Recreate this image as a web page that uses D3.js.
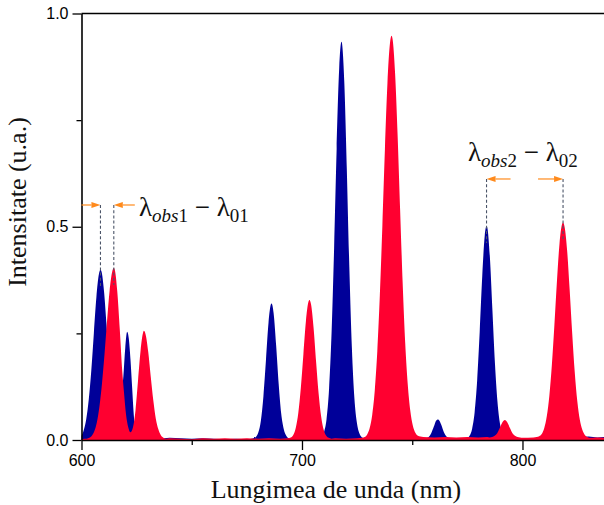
<!DOCTYPE html>
<html>
<head>
<meta charset="utf-8">
<script src="https://cdn.jsdelivr.net/npm/d3@7"></script>
<style>
  html, body { margin: 0; padding: 0; background: #fff; }
  svg { display: block; }
</style>
</head>
<body>
<script>
// Emission spectra: blue series (observed) and red series (shifted)
const blueWavelengths = [598.71,599.86,601.01,602.16,603.31,604.46,605.61,606.76,607.91,608.6,609.06,610.21,611.36,612.51,613.66,614.81,615.4,616.07,617.0,618.0,619.0,619.83,620.7,621.4,622.2,623.0,623.7,624.3,625.0,626.0,628.5,
  630,635,640,645,650,655,660,665,670,675,
  677.92,679.07,680.22,681.37,682.52,683.67,684.82,685.97,686.2,687.12,688.27,689.42,690.57,691.72,692.87,694.02,695.17,
  700,705,
  707.67,708.82,709.97,711.12,712.27,713.42,714.57,715.72,716.87,717.9,718.02,719.17,720.32,721.47,722.62,723.77,724.92,726.07,727.22,728.37,
  730,735,740,745,750,755,
  756.31,757.46,758.61,759.76,760.91,761.6,762.06,763.21,764.36,765.51,766.66,767.81,
  770,
  773.7,774.85,776.0,777.15,778.3,779.45,780.6,781.75,782.9,783.7,784.05,785.2,786.35,787.5,788.65,789.8,790.95,792.1,793.25,
  795,800,805,808,812,816,820,825,830,834,837.5];
const blueIntensity = [0.006,0.010,0.023,0.049,0.096,0.164,0.251,0.335,0.389,0.399,0.395,0.349,0.269,0.181,0.108,0.063,0.055,0.055,0.070,0.105,0.150,0.215,0.254,0.240,0.190,0.120,0.060,0.025,0.008,0.004,0.004,
  0.004,0.003,0.005,0.004,0.003,0.004,0.003,0.002,0.003,0.002,
  0.004,0.007,0.018,0.046,0.103,0.188,0.275,0.319,0.320,0.298,0.222,0.132,0.062,0.026,0.010,0.004,0.003,
  0.003,0.002,
  0.004,0.007,0.018,0.048,0.119,0.252,0.450,0.683,0.871,0.934,0.933,0.841,0.637,0.406,0.217,0.098,0.040,0.015,0.006,0.004,
  0.003,0.004,0.003,0.002,0.003,0.002,
  0.004,0.007,0.016,0.031,0.046,0.048,0.047,0.035,0.018,0.008,0.004,0.003,
  0.003,
  0.004,0.005,0.010,0.026,0.065,0.140,0.254,0.384,0.480,0.502,0.498,0.430,0.306,0.181,0.090,0.038,0.015,0.006,0.004,
  0.003,0.004,0.003,0.005,0.006,0.007,0.008,0.007,0.008,0.006,0.007];

const redWavelengths = [600,601.25,602.4,603.55,604.7,605.85,607.0,608.15,609.3,610.45,611.6,612.75,613.9,614.65,615.05,616.2,617.35,618.5,619.3,620.2,621.2,622.2,623.35,624.5,625.65,626.8,627.95,628.3,629.1,630.26,631.4,632.56,633.7,634.86,636.0,637.16,638.3,
  640,645,650,655,660,665,670,675,680,685,690,
  693.74,694.89,696.04,697.19,698.34,699.49,700.64,701.79,702.94,703.4,704.09,705.24,706.39,707.54,708.69,709.84,710.99,712.14,713.3,
  715,720,725,
  727.26,728.41,729.56,730.71,731.86,733.01,734.16,735.31,736.46,737.61,738.76,739.91,740.6,741.06,742.21,743.36,744.51,745.66,746.81,747.96,749.11,750.26,751.41,752.56,753.7,
  755,760,765,770,775,780,784,
  785.1,786.25,787.4,788.55,789.7,790.85,792,793.15,794.3,795.45,796.6,797.75,798.9,
  800,805,
  806.44,807.59,808.74,809.89,811.04,812.19,813.34,814.49,815.64,816.79,817.94,818.4,819.09,820.24,821.39,822.54,823.69,824.84,825.99,827.14,828.29,829.44,
  831,833,837.5];
const redIntensity = [0.002,0.003,0.003,0.005,0.010,0.021,0.042,0.079,0.133,0.202,0.280,0.350,0.394,0.403,0.400,0.350,0.260,0.160,0.110,0.060,0.030,0.018,0.030,0.070,0.140,0.210,0.252,0.256,0.247,0.207,0.149,0.093,0.050,0.025,0.011,0.005,0.003,
  0.004,0.003,0.002,0.004,0.003,0.004,0.003,0.004,0.003,0.004,0.003,
  0.004,0.006,0.012,0.029,0.064,0.123,0.201,0.279,0.324,0.328,0.318,0.264,0.184,0.109,0.055,0.024,0.010,0.005,0.003,
  0.004,0.003,0.004,
  0.005,0.007,0.013,0.028,0.059,0.116,0.208,0.340,0.503,0.682,0.837,0.931,0.948,0.941,0.861,0.716,0.539,0.368,0.228,0.131,0.069,0.034,0.017,0.010,0.008,
  0.007,0.006,0.007,0.006,0.007,0.006,0.007,
  0.006,0.007,0.010,0.016,0.028,0.041,0.047,0.041,0.028,0.016,0.010,0.007,0.006,
  0.005,0.006,
  0.007,0.009,0.014,0.028,0.056,0.104,0.177,0.271,0.373,0.460,0.506,0.510,0.500,0.445,0.353,0.251,0.160,0.092,0.048,0.024,0.012,0.007,
  0.005,0.006,0.005];

// Axis ticks
const xTicks = [600, 700, 800];
const xMinorTicks = [650, 750, 850];
const yTicks = [0.0, 0.5, 1.0];
const yMinorTicks = [0.25, 0.75];

// Wavelength-shift markers: peak pairs and bracket level
const shiftPairs = [
  { lambdaObs: 608.6, lambda0: 614.65, level: 0.551, sub1: "obs1", sub2: "01", inward: true },
  { lambdaObs: 783.7, lambda0: 818.4, level: 0.612, sub1: "obs2", sub2: "02", inward: false }
];

const W = 604, H = 505;
const svg = d3.select("body").append("svg").attr("width", W).attr("height", H);

const x = d3.scaleLinear().domain([600, 837.2]).range([81.5, 604.5]);
const y = d3.scaleLinear().domain([0, 1]).range([440, 13.5]);

svg.append("defs").append("clipPath").attr("id", "plot-clip")
  .append("rect")
  .attr("x", x(600)).attr("y", y(1))
  .attr("width", W - x(600)).attr("height", y(0) - y(1));

const blue = blueWavelengths.map((w, i) => [w, blueIntensity[i]]);
const red = redWavelengths.map((w, i) => [w, redIntensity[i]]);

const area = d3.area()
  .x(d => x(d[0]))
  .y0(y(0))
  .y1(d => y(d[1]))
  .curve(d3.curveMonotoneX);

const plot = svg.append("g").attr("clip-path", "url(#plot-clip)");
plot.append("path").datum(blue).attr("d", area).attr("fill", "#000099");
plot.append("path").datum(red).attr("d", area).attr("fill", "#ff0030");

// Axes
const axisFont = "'Liberation Sans', Arial, sans-serif";
const gx = svg.append("g").attr("transform", `translate(0,${y(0)})`)
  .call(d3.axisBottom(x).tickValues(xTicks).tickSize(10).tickSizeOuter(0).tickPadding(5));
const gxm = svg.append("g").attr("transform", `translate(0,${y(0)})`)
  .call(d3.axisBottom(x).tickValues(xMinorTicks).tickSize(5).tickSizeOuter(0).tickFormat(""));
const gy = svg.append("g").attr("transform", `translate(${x(600)},0)`)
  .call(d3.axisLeft(y).tickValues(yTicks).tickSize(9).tickSizeOuter(0).tickPadding(4).tickFormat(d3.format(".1f")));
const gym = svg.append("g").attr("transform", `translate(${x(600)},0)`)
  .call(d3.axisLeft(y).tickValues(yMinorTicks).tickSize(5).tickSizeOuter(0).tickFormat(""));

[gx, gxm, gy, gym].forEach(g => {
  g.selectAll("path.domain").attr("stroke", "#000").attr("stroke-width", 1.6);
  g.selectAll(".tick line").attr("stroke", "#000").attr("stroke-width", 1.3);
  g.selectAll(".tick text").attr("fill", "#000").style("font-family", axisFont).style("font-size", "16px");
});
gxm.select("path.domain").remove();
gym.select("path.domain").remove();

// top frame line
svg.append("line")
  .attr("x1", x(600)).attr("x2", W).attr("y1", y(1)).attr("y2", y(1))
  .attr("stroke", "#000").attr("stroke-width", 1.6);

// Axis titles
const serif = "'Liberation Serif', 'Times New Roman', serif";
svg.append("text")
  .attr("x", 336).attr("y", 498)
  .attr("text-anchor", "middle")
  .style("font-family", serif).style("font-size", "26px").attr("fill", "#111")
  .text("Lungimea de unda (nm)");
svg.append("text")
  .attr("transform", "translate(26,202) rotate(-90)")
  .attr("text-anchor", "middle")
  .style("font-family", serif).style("font-size", "26px").attr("fill", "#111")
  .text("Intensitate (u.a.)");

// Shift markers
const orange = "#ff8a1c";
function peakValue(ws, vs, w) {
  return vs[ws.indexOf(w)];
}
function arrow(g, x1, x2, yy) {
  // shaft from x1 to x2, head at x2
  const dir = x2 > x1 ? 1 : -1;
  const headLen = 9, headHalf = 3;
  g.append("line").attr("x1", x1).attr("x2", x2 - dir * headLen).attr("y1", yy).attr("y2", yy)
    .attr("stroke", orange).attr("stroke-width", 1.2);
  g.append("path")
    .attr("d", `M${x2},${yy} L${x2 - dir * headLen},${yy - headHalf} L${x2 - dir * headLen},${yy + headHalf} Z`)
    .attr("fill", orange);
}

const marks = svg.append("g");
shiftPairs.forEach(p => {
  const yy = y(p.level);
  const xa = x(p.lambdaObs), xb = x(p.lambda0);
  const va = peakValue(blueWavelengths, blueIntensity, p.lambdaObs);
  const vb = peakValue(redWavelengths, redIntensity, p.lambda0);
  [[xa, va], [xb, vb]].forEach(([xx, v]) => {
    marks.append("line")
      .attr("x1", xx).attr("x2", xx).attr("y1", yy).attr("y2", y(v) + 17)
      .attr("stroke", "#4a5468").attr("stroke-width", 1.1)
      .attr("stroke-dasharray", "3,2.2");
  });
  if (p.inward) {
    arrow(marks, xa - 19, xa, yy);
    arrow(marks, xb + 21, xb, yy);
  } else {
    arrow(marks, xa + 24, xa, yy);
    arrow(marks, xb - 25, xb, yy);
  }
});

function lambdaLabel(xp, yp, s1, s2) {
  const t = svg.append("text").attr("x", xp).attr("y", yp)
    .style("font-family", serif).style("font-size", "27px").attr("fill", "#111");
  t.append("tspan").text("λ");
  t.append("tspan").attr("dy", 6).style("font-size", "19px").style("font-style", "italic").text(s1.slice(0, 3));
  t.append("tspan").style("font-size", "19px").text(s1.slice(3));
  t.append("tspan").attr("dy", -6).text(" − λ");
  t.append("tspan").attr("dy", 6).style("font-size", "19px").text(s2);
}
lambdaLabel(139, 216, shiftPairs[0].sub1, shiftPairs[0].sub2);
lambdaLabel(468, 161, shiftPairs[1].sub1, shiftPairs[1].sub2);
</script>
</body>
</html>
